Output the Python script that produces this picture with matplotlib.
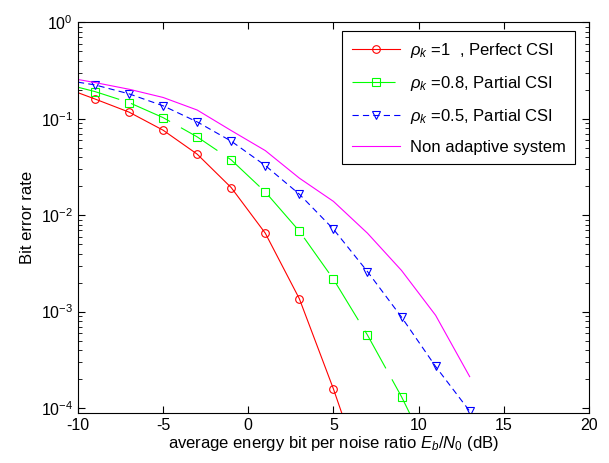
import numpy as np
import matplotlib
matplotlib.use("Agg")
import matplotlib.pyplot as plt

plt.rcParams['font.family'] = ['Liberation Sans', 'DejaVu Sans']
plt.rcParams['mathtext.fontset'] = 'custom'
plt.rcParams['mathtext.rm'] = 'Liberation Sans'
plt.rcParams['mathtext.it'] = 'Liberation Sans:italic'
plt.rcParams['lines.scale_dashes'] = False
plt.rcParams['axes.unicode_minus'] = False

# Eb/N0 (dB) - first point at the left edge, markers at odd values
snr_red = [-10, -9, -7, -5, -3, -1, 1, 3, 5, 7]
ber_red = [0.186, 0.160, 0.117, 0.0760, 0.0429, 0.0193, 0.0065, 0.00136, 1.58e-4, 1.5e-5]

snr_green = [-10, -9, -7, -5, -3, -1, 1, 3, 5, 7, 9, 11]
ber_green = [0.212, 0.191, 0.147, 0.1026, 0.0648, 0.0374, 0.0174, 0.00683,
             0.00217, 5.71e-4, 1.31e-4, 2.5e-5]

snr_blue = [-10, -9, -7, -5, -3, -1, 1, 3, 5, 7, 9, 11, 13]
ber_blue = [0.239, 0.224, 0.181, 0.136, 0.0927, 0.0585, 0.0327, 0.0165,
            0.00716, 0.00260, 8.77e-4, 2.70e-4, 9.3e-5]

snr_mag = [-10, -9, -7, -5, -3, -1, 1, 3, 5, 7, 9, 11, 13]
ber_mag = [0.255, 0.237, 0.202, 0.166, 0.123, 0.0753, 0.0467, 0.0242,
           0.0139, 0.0065, 0.00267, 9.16e-4, 2.12e-4]

fig = plt.figure(figsize=(6.09, 4.63), dpi=100)
ax = fig.add_axes([0.128, 0.108, 0.839, 0.844])

ax.semilogy(snr_red, ber_red, color='#ff0000', lw=0.8, marker='o', ms=5.5,
            mfc='none', mew=0.8, markevery=slice(1, None),
            label=r'$\rho_k$ =1  , Perfect CSI')
ax.semilogy(snr_green, ber_green, color='#00ff00', lw=0.8, marker='s', ms=5.5,
            mfc='none', mew=0.8, markevery=slice(1, None),
            dashes=(31, 9), label=r'$\rho_k$ =0.8, Partial CSI')
ax.semilogy(snr_blue, ber_blue, color='#0000ff', lw=0.8, marker='v', ms=5.5,
            mfc='none', mew=0.8, markevery=slice(1, None),
            dashes=(4.5, 3), label=r'$\rho_k$ =0.5, Partial CSI')
ax.semilogy(snr_mag, ber_mag, color='#ff00ff', lw=0.8,
            label='Non adaptive system')

ax.set_xlim(-10, 20)
ax.set_ylim(8.9e-5, 1)
ax.set_xticks([-10, -5, 0, 5, 10, 15, 20])
ax.tick_params(which='both', direction='in', top=True, right=True, labelsize=11.5)
ax.tick_params(which='major', length=5)
ax.tick_params(which='minor', length=3)
for s in ax.spines.values():
    s.set_linewidth(0.8)

ax.set_xlabel(r'average energy bit per noise ratio $E_b/N_0$ (dB)', fontsize=12, labelpad=1)
ax.set_ylabel('Bit error rate', fontsize=12, labelpad=4)

leg = ax.legend(loc='upper right', fontsize=12, fancybox=False, framealpha=1,
                edgecolor='black', borderpad=0.55, labelspacing=0.85,
                handlelength=2.9, handletextpad=0.6, bbox_to_anchor=(0.989, 0.998))
leg.get_frame().set_linewidth(0.8)

fig.savefig('out.png', dpi=100)
